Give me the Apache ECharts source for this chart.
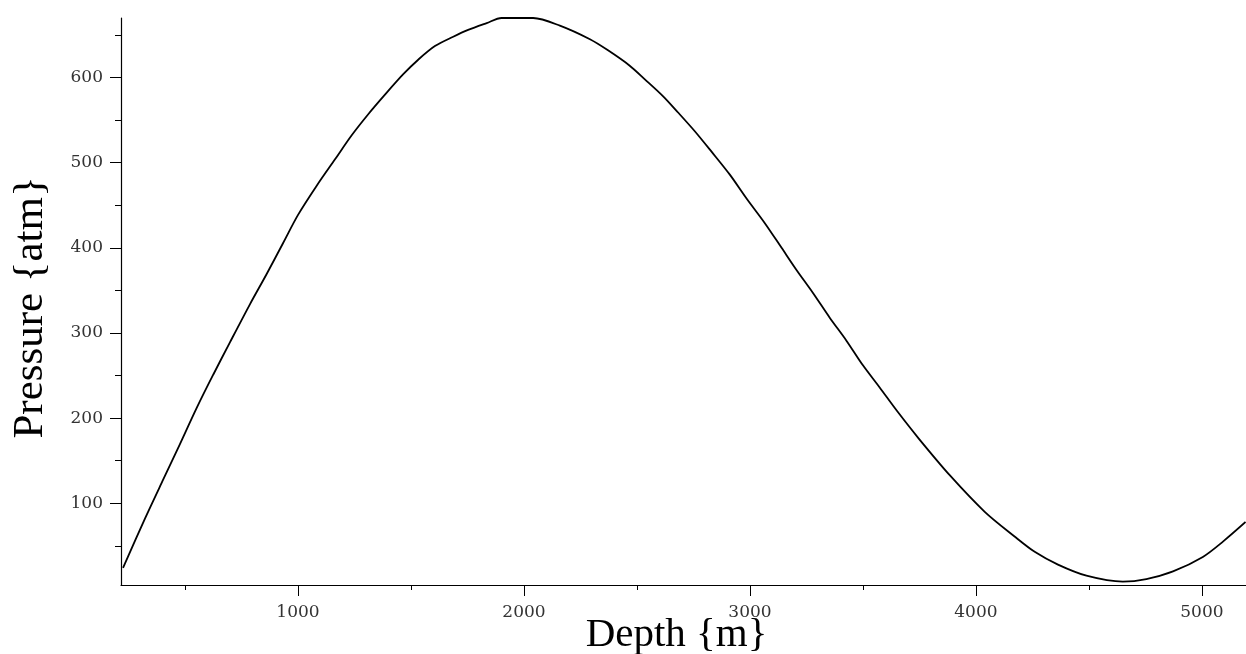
<!DOCTYPE html>
<html>
<head>
<meta charset="utf-8">
<script src="https://cdn.jsdelivr.net/npm/echarts@6/dist/echarts.min.js"></script>
<style>
  html, body { margin: 0; padding: 0; background: #fff; }
  #chart { width: 1246px; height: 654px; }
</style>
</head>
<body>
<div id="chart"></div>
<script>
// values
const depth = [226, 323, 404, 470, 552, 625, 699, 788, 861, 935, 1001, 1083, 1164, 1237, 1311,
  1385, 1466, 1532, 1606, 1687, 1753, 1835, 1901, 1982, 2041, 2159, 2292, 2372, 2468, 2535,
  2616, 2682, 2756, 2830, 2911, 2985, 3066, 3140, 3206, 3279, 3353, 3427, 3500, 3574, 3652,
  3747, 3884, 4039, 4171, 4260, 4363, 4489, 4650, 4754, 4872, 5004, 5093, 5193];
const pressure = [24, 82, 128, 165, 212, 251, 289, 334, 369, 406, 439, 473, 504, 532, 557,
  580, 604, 621, 637, 648, 656, 664, 670, 670, 670, 661, 645, 632, 614, 598,
  578, 559, 537, 513, 486, 458, 429, 400, 374, 347, 318, 291, 262, 236, 208,
  176, 133, 90, 61, 43, 28, 15, 8, 11, 20, 37, 55, 78];

const xTicks = [1000, 2000, 3000, 4000, 5000];
const xMinorTicks = [500, 1500, 2500, 3500, 4500];
const yTicks = [100, 200, 300, 400, 500, 600];
const yMinorTicks = [50, 150, 250, 350, 450, 550, 650];

const chart = echarts.init(document.getElementById('chart'));

const labelFont = { fontFamily: 'DejaVu Serif', fontSize: 17, color: '#333' };

const option = {
  animation: false,
  grid: { left: 121, right: 0, top: 18, bottom: 69, outerBoundsMode: 'none' },
  xAxis: [
    {
      type: 'value', min: 217, max: 5195,
      name: 'Depth {m}', nameLocation: 'middle', nameGap: 30, nameMoveOverlap: false,
      nameTextStyle: { fontFamily: 'Liberation Serif', fontSize: 41, color: '#000', padding: [0, 14, 0, 0] },
      splitLine: { show: false },
      axisLine: { lineStyle: { color: '#000', width: 1.2 } },
      axisTick: { customValues: xTicks, length: 11, lineStyle: { color: '#000' } },
      axisLabel: Object.assign({ customValues: xTicks, margin: 19, formatter: v => String(v) }, labelFont)
    },
    {
      type: 'value', min: 217, max: 5195, position: 'bottom',
      splitLine: { show: false },
      axisLine: { show: false },
      axisTick: { customValues: xMinorTicks, length: 5, lineStyle: { color: '#000' } },
      axisLabel: { show: false }
    }
  ],
  yAxis: [
    {
      type: 'value', min: 4, max: 670,
      name: 'Pressure {atm}', nameLocation: 'middle', nameGap: 69, nameMoveOverlap: false,
      nameTextStyle: { fontFamily: 'Liberation Serif', fontSize: 43, color: '#000', padding: [0, 12, 0, 0] },
      splitLine: { show: false },
      axisLine: { show: true, lineStyle: { color: '#000', width: 1.2 } },
      axisTick: { show: true, customValues: yTicks, length: 11, lineStyle: { color: '#000' } },
      axisLabel: Object.assign({ customValues: yTicks, margin: 18 }, labelFont)
    },
    {
      type: 'value', min: 4, max: 670, position: 'left',
      splitLine: { show: false },
      axisLine: { show: false },
      axisTick: { show: true, customValues: yMinorTicks, length: 6, lineStyle: { color: '#000' } },
      axisLabel: { show: false }
    }
  ],
  series: [
    {
      type: 'line',
      data: depth.map((d, i) => [d, pressure[i]]),
      showSymbol: false,
      smooth: 0.3,
      lineStyle: { color: '#000', width: 1.8 }
    }
  ]
};

chart.setOption(option);
</script>
</body>
</html>
